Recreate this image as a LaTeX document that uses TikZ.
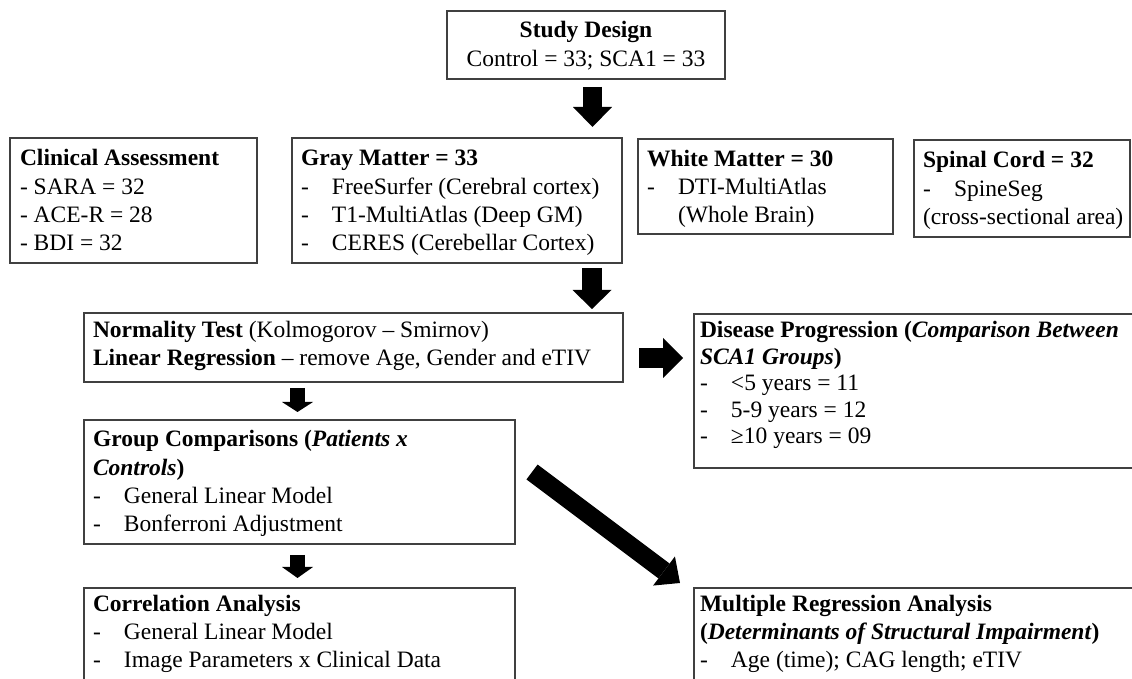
\documentclass[tikz,border=0pt]{standalone}
\usepackage{fontspec}
\setmainfont{Liberation Serif}
\usetikzlibrary{arrows.meta}
\newlength\dashw \setlength\dashw{15.5pt}
\newcommand\itm{\makebox[\dashw][l]{-}}
\begin{document}
\begin{tikzpicture}[x=0.5pt,y=-0.5pt,
  box/.style={draw=black!75, line width=0.75pt, anchor=north west, inner sep=0pt, outer sep=0pt},
  txt/.style={anchor=base west, align=left, inner sep=0pt, outer sep=0pt, font=\fontsize{11.75pt}{14.2pt}\selectfont},
  barrow/.style n args={3}{line width=#1, draw=black, -{Triangle[width=#2,length=#3,line width=0pt]}}
]
\useasboundingbox (0,0) rectangle (1132,679);
\clip (0,0) rectangle (1132,679);

% boxes
\node[box, minimum width=139pt, minimum height=34pt] (study) at (447,11) {};
\node[box, minimum width=123.5pt, minimum height=62.5pt] (clin) at (10,138) {};
\node[box, minimum width=165pt, minimum height=62.5pt] (gray) at (292,138) {};
\node[box, minimum width=127.5pt, minimum height=47.5pt] (white) at (638,139) {};
\node[box, minimum width=108pt, minimum height=48.5pt] (spinal) at (914,140) {};
\node[box, minimum width=269.5pt, minimum height=34.5pt] (norm) at (84,313) {};
\node[box, minimum width=230pt, minimum height=77pt] (dis) at (694,314) {};
\node[box, minimum width=215.5pt, minimum height=62pt] (group) at (84,420) {};
\node[box, minimum width=215.5pt, minimum height=60pt] (corr) at (84,588) {};
\node[box, minimum width=230pt, minimum height=60pt] (mult) at (694,588) {};

% texts (anchored at the baseline of their last line)
\node[txt, anchor=base, align=center, font=\fontsize{11.75pt}{14.5pt}\selectfont] (studyt) at (586,67)
  {\textbf{Study Design}\\Control = 33; SCA1 = 33};
\node[txt] (clint) at (20,251)
  {\textbf{Clinical Assessment}\\- SARA = 32\\- ACE-R = 28\\- BDI = 32};
\node[txt] (grayt) at (301,251)
  {\textbf{Gray Matter = 33}\\\itm FreeSurfer (Cerebral cortex)\\\itm T1-MultiAtlas (Deep GM)\\\itm CERES (Cerebellar Cortex)};
\node[txt] (whitet) at (647,223)
  {\textbf{White Matter = 30}\\\itm DTI-MultiAtlas\\\hspace*{\dashw}(Whole Brain)};
\node[txt, font=\fontsize{11.75pt}{14.4pt}\selectfont] (spinalt) at (923,225)
  {\textbf{Spinal Cord = 32}\\\itm SpineSeg\\(cross-sectional area)};
\node[txt] (normt) at (93,366)
  {\textbf{Normality Test} (Kolmogorov -- Smirnov)\\\textbf{Linear Regression} -- remove Age, Gender and eTIV};
\node[txt, font=\fontsize{11.75pt}{13.3pt}\selectfont] (dist) at (700,444)
  {\textbf{Disease Progression (\textit{Comparison Between}}\\\textbf{\textit{SCA1 Groups})}\\\itm <5 years = 11\\\itm 5-9 years = 12\\\itm ≥10 years = 09};
\node[txt] (groupt) at (93,532)
  {\textbf{Group Comparisons (\textit{Patients x}}\\\textbf{\textit{Controls})}\\\itm General Linear Model\\\itm Bonferroni Adjustment};
\node[txt, font=\fontsize{11.75pt}{14pt}\selectfont] (corrt) at (93,668)
  {\textbf{Correlation Analysis}\\\itm General Linear Model\\\itm Image Parameters x Clinical Data};
\node[txt, font=\fontsize{11.75pt}{14pt}\selectfont] (multt) at (700,668)
  {\textbf{Multiple Regression Analysis}\\\textbf{(\textit{Determinants of Structural Impairment})}\\\itm Age (time); CAG length; eTIV};

% block arrows
\coordinate (a1s) at (592.5,87);  \coordinate (a1e) at (592.5,127);
\coordinate (a2s) at (592,268);   \coordinate (a2e) at (592,309);
\coordinate (a3s) at (297.5,388); \coordinate (a3e) at (297.5,412);
\coordinate (a4s) at (297.5,555); \coordinate (a4e) at (297.5,578);
\coordinate (ars) at (639,358);   \coordinate (are) at (683,358);
\coordinate (ads) at (532,472);   \coordinate (ade) at (680,583);
\draw[barrow={9.5pt}{19.5pt}{10pt}] (a1s) -- (a1e);
\draw[barrow={10pt}{19.5pt}{9.5pt}] (a2s) -- (a2e);
\draw[barrow={7.5pt}{15.5pt}{5pt}] (a3s) -- (a3e);
\draw[barrow={7.5pt}{15.5pt}{5.5pt}] (a4s) -- (a4e);
\draw[barrow={10pt}{20pt}{10pt}] (ars) -- (are);
\draw[barrow={9.3pt}{18.2pt}{10pt}] (ads) -- (ade);
\end{tikzpicture}
\end{document}
